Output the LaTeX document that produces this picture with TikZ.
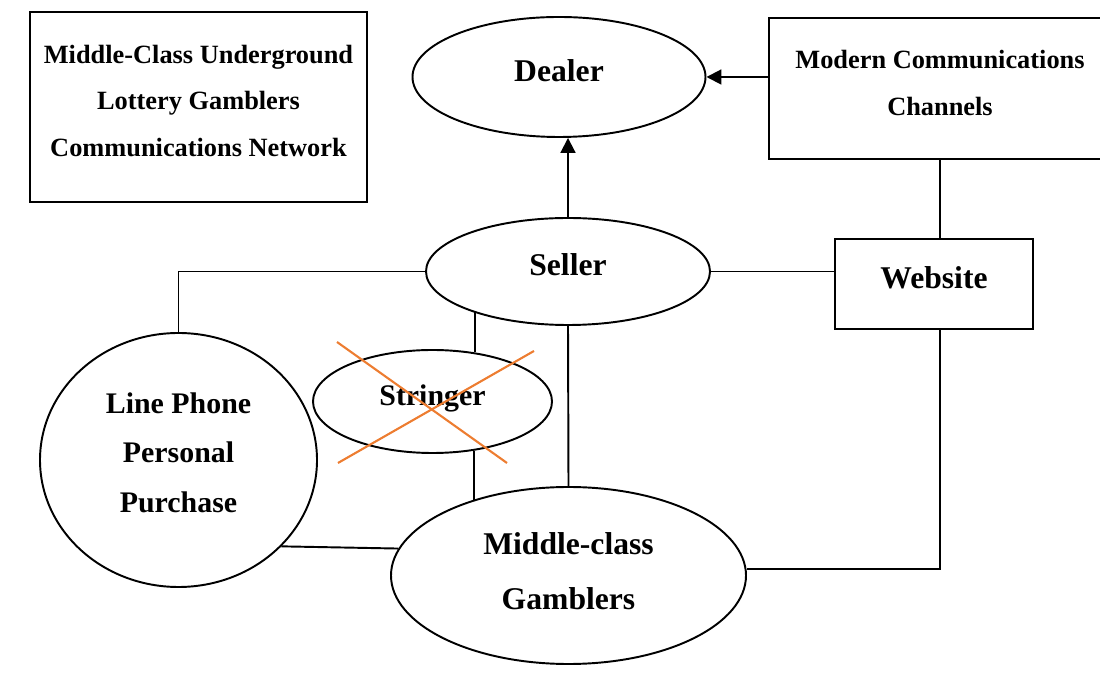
\documentclass[tikz,border=0pt]{standalone}
\usepackage{fontspec}
\setmainfont{Liberation Serif}
\usetikzlibrary{shapes.geometric,arrows.meta}
\definecolor{crossorange}{RGB}{237,125,49}
\begin{document}
\begin{tikzpicture}[xscale=1,yscale=1,
  line width=1.1pt,
  oval/.style={draw, ellipse, inner sep=0pt, font=\bfseries\fontsize{18}{31}\selectfont, text height=13.5pt, text depth=8.5pt},
  box/.style={draw, rectangle, inner sep=0pt, align=center, font=\bfseries\fontsize{15}{26.6}\selectfont},
  arr/.style={-{Triangle[length=8.5pt,width=8.5pt]}}]
\useasboundingbox (0,0) rectangle (22,13.8);
% boxes
\node[box, minimum width=6.74cm, minimum height=3.8cm, text height=64pt, text depth=7.6pt] (title) at (3.97,11.66) {Middle-Class Underground\\Lottery Gamblers\\Communications Network};
\node[box, minimum width=6.84cm, minimum height=2.82cm, text height=37pt, text depth=6.6pt] (modern) at (18.8,12.03) {Modern Communications\\Channels};
\node[box, font=\bfseries\fontsize{18}{31}\selectfont, minimum width=3.96cm, minimum height=1.8cm, text height=13.5pt, text depth=8.5pt] (website) at (18.68,8.12) {Website};
% ellipses
\node[oval, minimum width=5.86cm, minimum height=2.4cm] (dealer) at (11.18,12.26) {Dealer};
\node[oval, minimum width=5.68cm, minimum height=2.14cm] (seller) at (11.36,8.37) {Seller};
\node[oval, font=\bfseries\fontsize{17}{28.3}\selectfont, minimum width=4.78cm, minimum height=2.06cm] (stringer) at (8.65,5.77) {Stringer};
\node[oval, align=center, font=\bfseries\fontsize{17}{28.3}\selectfont, minimum width=5.54cm, minimum height=5.08cm, text height=68.6pt, text depth=8.8pt] (phone) at (3.57,4.6) {Line Phone\\Personal\\Purchase};
\node[oval, align=center, font=\bfseries\fontsize{18}{31.1}\selectfont, minimum width=7.1cm, minimum height=3.54cm, text height=44pt, text depth=5.6pt] (gamblers) at (11.37,2.29) {Middle-class\\Gamblers};
% connectors
\draw[arr] (modern.west |- dealer.east) -- (dealer.east);
\draw[arr] (seller.north) -- (seller.north |- dealer.south);
\draw (modern.south) -- (modern.south |- website.north);
\draw (seller.east) -- (seller.east -| website.west);
\draw (website.south -| modern.south) |- (gamblers.2);
\draw (seller.west) -| (phone.north);
\draw (stringer.49) -- (stringer.49 |- seller.203);
\draw (stringer.-50) -- (stringer.-50 |- gamblers.142);
\draw (seller.south) -- (gamblers.north);
\draw (phone.-40) -- (gamblers.171);
% crossed out
\draw[crossorange, line width=1.2pt] ([shift={(-1.91,1.19)}]stringer.center) -- ([shift={(1.49,-1.23)}]stringer.center);
\draw[crossorange, line width=1.2pt] ([shift={(-1.89,-1.23)}]stringer.center) -- ([shift={(2.03,1.01)}]stringer.center);
\end{tikzpicture}
\end{document}
